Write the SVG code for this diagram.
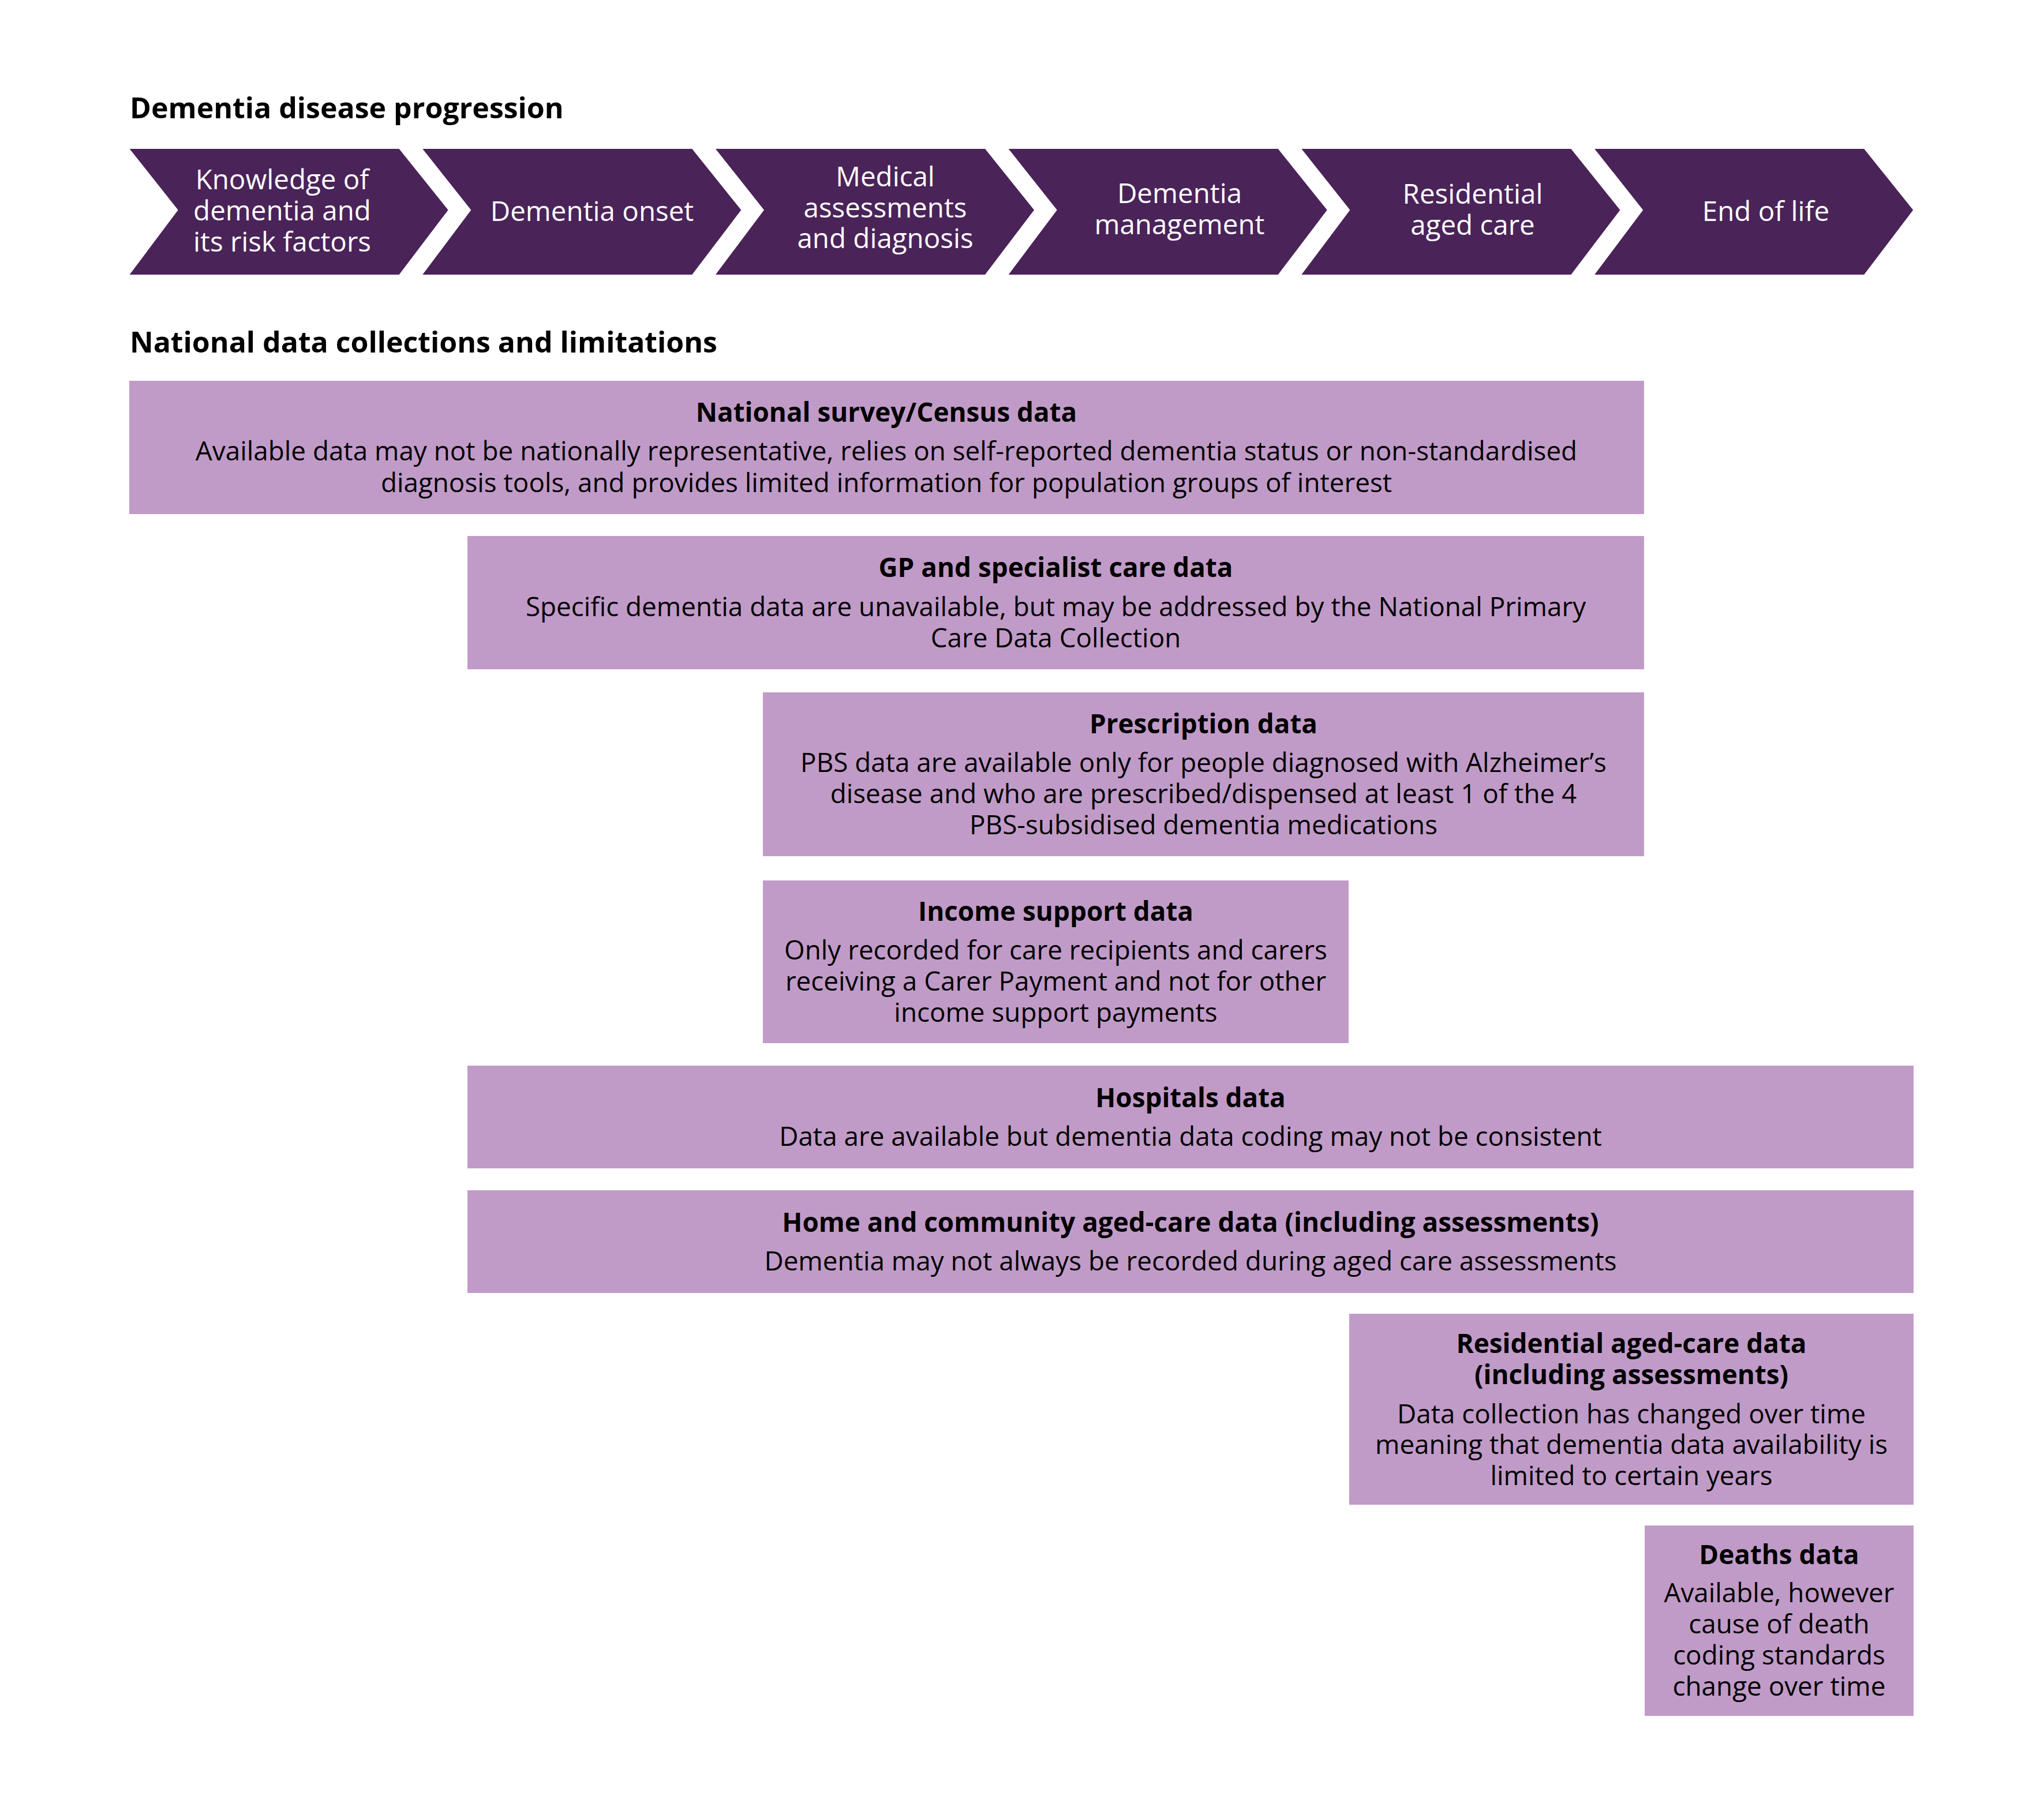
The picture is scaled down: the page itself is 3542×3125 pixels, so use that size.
<svg xmlns="http://www.w3.org/2000/svg" width="3542" height="3125" viewBox="0 0 3542 3125">
<style>
.bg{fill:#FFFFFF}
.chev{fill:#4A2359}
.box{fill:#C19BC8}
.h{font-family:"Open Sans","Noto Sans","Liberation Sans",sans-serif;font-weight:bold;font-size:50px;fill:#000}
.ct{font-family:"Open Sans","Noto Sans","Liberation Sans",sans-serif;font-size:47.5px;fill:#FFFFFF;text-anchor:middle}
.bt{font-family:"Open Sans","Noto Sans","Liberation Sans",sans-serif;font-weight:bold;font-size:45.8px;fill:#000;text-anchor:middle}
.bb{font-family:"Open Sans","Noto Sans","Liberation Sans",sans-serif;font-size:45.8px;fill:#000;text-anchor:middle}
</style>
<rect class="bg" x="0" y="0" width="3542" height="3125"/>
<text class="h" x="225" y="205">Dementia disease progression</text>
<text class="h" x="225" y="611">National data collections and limitations</text>

<g id="stage-knowledge">
<polygon class="chev" points="224.6,258 691.6,258 776.6,364 691.6,476 224.6,476 308.6,364"/>
<text class="ct"><tspan x="489" y="328">Knowledge of</tspan><tspan x="489" y="382">dementia and</tspan><tspan x="489" y="436">its risk factors</tspan></text>
</g>
<g id="stage-onset">
<polygon class="chev" points="732.3,258 1199.3,258 1284.3,364 1199.3,476 732.3,476 816.3,364"/>
<text class="ct" x="1026" y="383">Dementia onset</text>
</g>
<g id="stage-medical">
<polygon class="chev" points="1240,258 1707,258 1792,364 1707,476 1240,476 1324,364"/>
<text class="ct"><tspan x="1534" y="323">Medical</tspan><tspan x="1534" y="377">assessments</tspan><tspan x="1534" y="430">and diagnosis</tspan></text>
</g>
<g id="stage-management">
<polygon class="chev" points="1747.7,258 2214.7,258 2299.7,364 2214.7,476 1747.7,476 1831.7,364"/>
<text class="ct"><tspan x="2044" y="352">Dementia</tspan><tspan x="2044" y="406">management</tspan></text>
</g>
<g id="stage-residential">
<polygon class="chev" points="2255.4,258 2722.4,258 2807.4,364 2722.4,476 2255.4,476 2339.4,364"/>
<text class="ct"><tspan x="2552" y="353">Residential</tspan><tspan x="2552" y="407">aged care</tspan></text>
</g>
<g id="stage-endoflife">
<polygon class="chev" points="2763.2,258 3230.2,258 3315.2,364 3230.2,476 2763.2,476 2847.2,364"/>
<text class="ct" x="3060" y="383">End of life</text>
</g>

<g id="connectors"></g>

<g id="box-survey">
<rect class="box" x="224" y="660" width="2625" height="231"/>
<text class="bt" x="1536" y="731">National survey/Census data</text>
<text class="bb"><tspan x="1536" y="798">Available data may not be nationally representative, relies on self-reported dementia status or non-standardised</tspan><tspan x="1536" y="853">diagnosis tools, and provides limited information for population groups of interest</tspan></text>
</g>
<g id="box-gp">
<rect class="box" x="810" y="929" width="2039" height="231"/>
<text class="bt" x="1829.5" y="1000">GP and specialist care data</text>
<text class="bb"><tspan x="1829.5" y="1068">Specific dementia data are unavailable, but may be addressed by the National Primary</tspan><tspan x="1829.5" y="1122">Care Data Collection</tspan></text>
</g>
<g id="box-prescription">
<rect class="box" x="1322" y="1200" width="1527" height="284"/>
<text class="bt" x="2085.5" y="1271">Prescription data</text>
<text class="bb"><tspan x="2085.5" y="1338">PBS data are available only for people diagnosed with Alzheimer’s</tspan><tspan x="2085.5" y="1392">disease and who are prescribed/dispensed at least 1 of the 4</tspan><tspan x="2085.5" y="1446">PBS-subsidised dementia medications</tspan></text>
</g>
<g id="box-income">
<rect class="box" x="1322" y="1526" width="1015" height="282"/>
<text class="bt" x="1829.5" y="1596">Income support data</text>
<text class="bb"><tspan x="1829.5" y="1663">Only recorded for care recipients and carers</tspan><tspan x="1829.5" y="1717">receiving a Carer Payment and not for other</tspan><tspan x="1829.5" y="1771">income support payments</tspan></text>
</g>
<g id="box-hospitals">
<rect class="box" x="810" y="1847" width="2506" height="178"/>
<text class="bt" x="2063" y="1919">Hospitals data</text>
<text class="bb" x="2063" y="1986">Data are available but dementia data coding may not be consistent</text>
</g>
<g id="box-home">
<rect class="box" x="810" y="2063" width="2506" height="178"/>
<text class="bt" x="2063" y="2135">Home and community aged-care data (including assessments)</text>
<text class="bb" x="2063" y="2202">Dementia may not always be recorded during aged care assessments</text>
</g>
<g id="box-residential">
<rect class="box" x="2338" y="2277" width="978" height="331"/>
<text class="bt"><tspan x="2827" y="2345">Residential aged-care data</tspan><tspan x="2827" y="2399">(including assessments)</tspan></text>
<text class="bb"><tspan x="2827" y="2467">Data collection has changed over time</tspan><tspan x="2827" y="2520">meaning that dementia data availability is</tspan><tspan x="2827" y="2574">limited to certain years</tspan></text>
</g>
<g id="box-deaths">
<rect class="box" x="2850" y="2644" width="466" height="330"/>
<text class="bt" x="3083" y="2711">Deaths data</text>
<text class="bb"><tspan x="3083" y="2777">Available, however</tspan><tspan x="3083" y="2831">cause of death</tspan><tspan x="3083" y="2885">coding standards</tspan><tspan x="3083" y="2939">change over time</tspan></text>
</g>
</svg>
